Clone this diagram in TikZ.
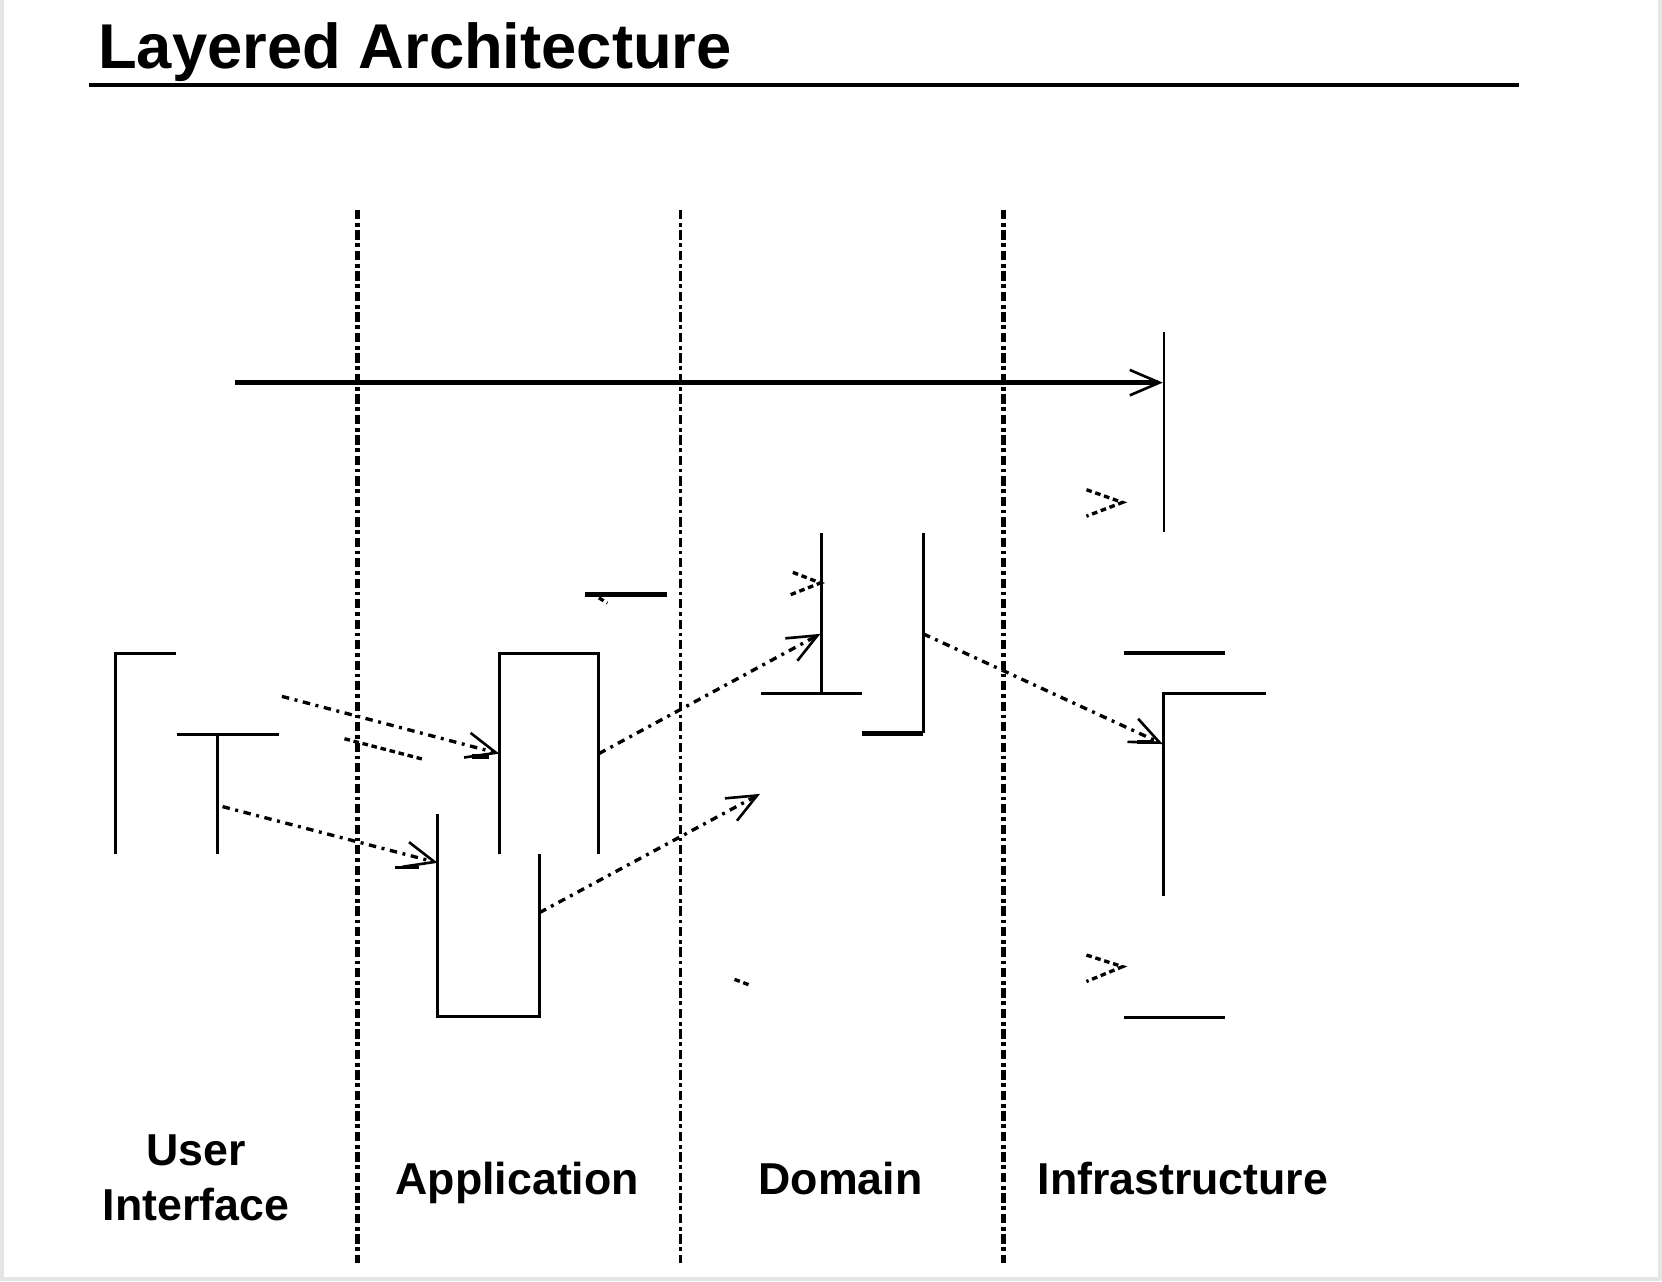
\documentclass[tikz,border=0pt]{standalone}
\usepackage{fontspec}
\setmainfont{Liberation Sans}
\usetikzlibrary{arrows.meta}

\tikzset{
  lane/.style={line width=1.4pt, dash pattern=on 2.5pt off 1pt on 1pt off 1pt},
  msg/.style={->, line width=0.9pt, dash pattern=on 2pt off 1.5pt on 0.8pt off 1.5pt},
  chev/.style={line width=0.9pt, dash pattern=on 1.5pt off 1pt},
  life/.style={line width=0.8pt},
  bar/.style={line width=1.3pt},
  lbl/.style={font=\fontsize{12}{14.8}\selectfont\bfseries, inner sep=0pt},
}

\begin{document}
\begin{tikzpicture}[x=0.1mm, y=-0.1mm, >={Straight Barb[length=2.8mm,width=2.4mm,line width=0.7pt 0]}]
    \useasboundingbox (0,0) rectangle (1568,1209);
    \draw[gray!20, line width=1pt] (2,0) -- (2,1207) -- (1566,1207) -- (1566,0);

    \node[anchor=base west, inner sep=0pt, font=\fontsize{17}{20}\selectfont\bfseries] (title) at (92,65) {Layered Architecture};
    \draw[line width=1pt] (84,80) -- (1433,80);

    % layers
    \draw[lane] (337,198) -- (337,1192);
    \draw[lane, line width=0.7pt] (642,198) -- (642,1192);
    \draw[lane] (947,198) -- (947,1192);

    \node[lbl, align=center] (ui) at (185,1111) {User\\Interface};
    \node[lbl, anchor=base] (app) at (488,1127) {Application};
    \node[lbl, anchor=base] (dom) at (793,1127) {Domain};
    \node[lbl, anchor=base] (infra) at (1116,1127) {Infrastructure};

    % user interface
    \draw[life] (166,617) -- (109,617) -- (109,806);
    \draw[life] (167,693) -- (263,693);
    \draw[life] (205,693) -- (205,806);

    % application
    \draw[life] (471,806) -- (471,617) -- (565,617) -- (565,806);
    \draw[life] (413,768) -- (413,959) -- (509,959) -- (509,806);
    \draw[bar] (552,561) -- (629,561);
    \draw[chev] (565,564) -- (573,569);

    % domain
    \draw[life] (775,503) -- (775,654);
    \draw[life] (718,654) -- (813,654);
    \draw[life] (871,503) -- (871,692);
    \draw[bar] (813,692) -- (871,692);

    % infrastructure
    \draw[life, line width=0.6pt] (1098,313) -- (1098,502);
    \draw[bar] (1060,616) -- (1156,616);
    \draw[life] (1194,654) -- (1098,654) -- (1098,845);
    \draw[life] (1060,960) -- (1156,960);

    % calls
    \coordinate (uiTop) at (266,657);
    \coordinate (uiLow) at (210,761);
    \coordinate (appIn) at (471,711);
    \coordinate (appOut) at (565,711);
    \coordinate (app2In) at (413,814);
    \coordinate (app2Out) at (509,861);
    \coordinate (domIn) at (774,598);
    \coordinate (domOut) at (871,598);
    \coordinate (domFree) at (717,749);
    \coordinate (infIn) at (1097,702);
    \coordinate (start) at (222,361);
    \coordinate (infTop) at (1097,361);

    \draw[->, line width=1.5pt] (start) -- (infTop);
    \draw[msg] (uiTop) -- (appIn);
    \draw[msg] (uiLow) -- (app2In);
    \draw[msg] (appOut) -- (domIn);
    \draw[msg] (app2Out) -- (domFree);
    \draw[msg] (domOut) -- (infIn);

    \draw[chev] (325,697) -- (398,716);
    \draw[bar] (445,714) -- (461,714);
    \draw[life] (373,818) -- (395,818);
    \draw[bar] (1073,700) -- (1089,700);
    \draw[chev] (693,924) -- (709,930);

    \draw[chev] (1025,462) -- (1059,474) -- (1025,487);
    \draw[chev] (1025,901) -- (1059,912) -- (1025,926);
    \draw[chev] (748,540) -- (774,550) -- (746,561);

\end{tikzpicture}
\end{document}
